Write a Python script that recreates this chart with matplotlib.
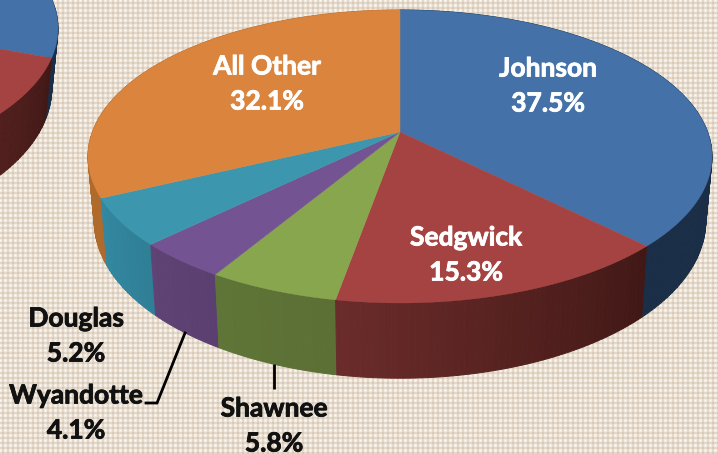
import numpy as np
import matplotlib

matplotlib.use("Agg")
import matplotlib.pyplot as plt
import matplotlib.patheffects as pe
from matplotlib.colors import to_rgb

names = ["Johnson", "Sedgwick", "Shawnee", "Wyandotte", "Douglas", "All Other"]
shares = [37.5, 15.3, 5.8, 4.1, 5.2, 32.1]
top_colors = ["#4472a8", "#a54342", "#88a64e", "#735392", "#3c97ae", "#db843d"]
side_left = ["#1b2e47", "#6b2c2a", "#5f7537", "#5f4375", "#3288a0", "#b06a2b"]
side_right = ["#1b2e47", "#411816", "#5c6f35", "#5a3f70", "#2f7f96", "#b06a2b"]

W, H = 718, 454

# perspective of the pie top, fitted to the picture
PERSP = 0.167
SHRINK = 0.98


def project(theta, cx, cy, rx, ry, depth=0.0):
    # theta runs clockwise from 12 o'clock
    u = np.sin(theta)
    v = -np.cos(theta)
    s = 1.0 / (1.0 - PERSP * v)
    x = rx * u * s
    y = ry * v * s
    if depth:
        x = x * SHRINK
    return cx + x, cy + y + depth * s


def draw_pie(ax, values, start, cx, cy, rx, ry, depth):
    edges = start + np.cumsum([0] + list(values)) / 100.0 * 2 * np.pi
    pairs = list(zip(edges[:-1], edges[1:]))

    # sides first, back slices before the front ones
    order = sorted(range(len(values)), key=lambda i: np.cos((pairs[i][0] + pairs[i][1]) / 2), reverse=True)
    for i in order:
        a0, a1 = pairs[i]
        steps = max(int((a1 - a0) * 60), 2)
        ts = np.linspace(a0, a1, steps + 1)
        c_l = np.array(to_rgb(side_left[i]))
        c_r = np.array(to_rgb(side_right[i]))
        for k in range(steps):
            seg = np.linspace(ts[k], ts[k + 1], 4)
            x0, y0 = project(seg, cx, cy, rx, ry)
            x1, y1 = project(seg, cx, cy, rx, ry, depth)
            # theta grows from the right end of the slice to the left end
            f = k / steps
            col = c_r * (1 - f) + c_l * f
            ax.fill(np.r_[x0, x1[::-1]], np.r_[y0, y1[::-1]], fc=col, ec=col, lw=0.7, zorder=2)

    for i, (a0, a1) in enumerate(pairs):
        ts = np.linspace(a0, a1, 200)
        x, y = project(ts, cx, cy, rx, ry)
        ax.fill(np.r_[cx, x], np.r_[cy, y], color=top_colors[i], lw=0.3, ec=top_colors[i], zorder=3)


def background():
    # woven tan cloth with white pin holes
    yy, xx = np.mgrid[0:H, 0:W]
    img = np.ones((H, W, 3)) * np.array(to_rgb("#f2ebe2"))
    vert = xx % 5 >= 2
    horiz = yy % 5 >= 2
    vert &= xx % 5 <= 3
    horiz &= yy % 5 <= 3
    img[vert | horiz] = to_rgb("#e3d8ca")
    img[vert & horiz] = to_rgb("#d8c8b6")
    img[(xx % 5 == 0) & (yy % 5 == 0)] = to_rgb("#ffffff")
    return img


fig = plt.figure(figsize=(W / 100, H / 100), dpi=100)
ax = fig.add_axes([0, 0, 1, 1])
ax.imshow(background(), extent=(0, W, H, 0), interpolation="nearest", aspect="auto", zorder=0)
ax.set_xlim(0, W)
ax.set_ylim(H, 0)
ax.axis("off")

# the neighbouring pie, cut off by the left edge
draw_pie(ax, shares, -0.42, -254, 4, 307.6, 142.4, 58)
draw_pie(ax, shares, 0.0, 400, 132, 307.6, 142.4, 62.7)

# leader lines
ax.plot([274, 274], [364, 389], color="black", lw=2, zorder=4, solid_capstyle="butt")
ax.plot([185, 157, 146], [333, 403, 403], color="black", lw=2, zorder=4, solid_joinstyle="miter")

font = dict(family="Lato", fontweight="bold", ha="center", va="center", linespacing=1.55, zorder=5)
label_pos = [(548, 86), (466, 255), (274, 426), (76, 413), (76, 336), (267, 84)]
label_color = ["white", "white", "#111111", "#111111", "#111111", "white"]
for name, share, pos, col in zip(names, shares, label_pos, label_color):
    txt = ax.text(pos[0], pos[1], f"{name}\n{share}%", color=col, fontsize=19, **font)
    # Lato bold is a little lighter than the original face
    txt.set_path_effects([pe.withStroke(linewidth=0.6, foreground=col)])

fig.savefig("out.png", dpi=100)
